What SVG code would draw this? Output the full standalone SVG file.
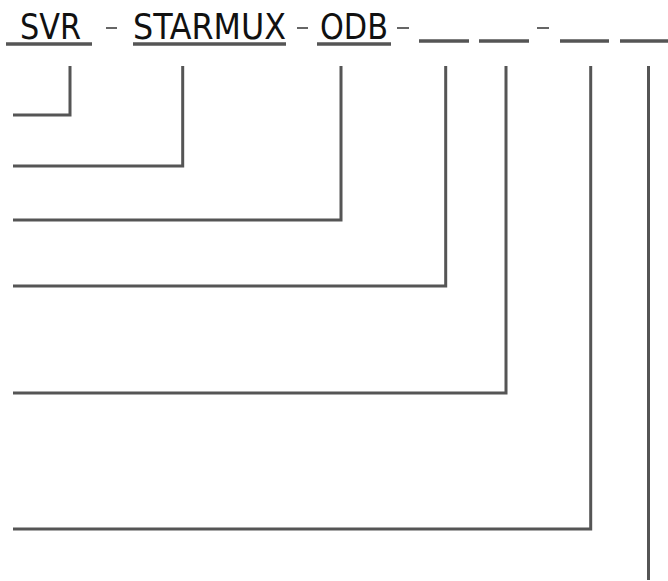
<svg xmlns="http://www.w3.org/2000/svg" width="668" height="581" viewBox="0 0 668 581">
<style>
.t{font-family:"DejaVu Sans Condensed","DejaVu Sans",sans-serif;font-size:35px;fill:#111}
.u{stroke:#555;stroke-width:3.5;fill:none}
.d{stroke:#555;stroke-width:1.8}
.c{stroke:#555;stroke-width:3;fill:none}
</style>
<rect width="668" height="581" fill="#fff"/>
<g id="code">
<g id="n-svr"><text class="t" x="20" y="39" textLength="61" lengthAdjust="spacingAndGlyphs">SVR</text><line class="u" x1="6" y1="44" x2="92" y2="44"/></g>
<line class="d" x1="106" y1="28" x2="117" y2="28"/>
<g id="n-starmux"><text class="t" x="133" y="39" textLength="153" lengthAdjust="spacingAndGlyphs">STARMUX</text><line class="u" x1="133" y1="44" x2="286" y2="44"/></g>
<line class="d" x1="297" y1="28" x2="308" y2="28"/>
<g id="n-odb"><text class="t" x="320" y="39" textLength="68" lengthAdjust="spacingAndGlyphs">ODB</text><line class="u" x1="317" y1="44" x2="391" y2="44"/></g>
<line class="d" x1="397" y1="28" x2="409" y2="28"/>
<g id="n-b1"><line class="u" x1="419" y1="41" x2="469" y2="41"/></g>
<g id="n-b2"><line class="u" x1="479" y1="41" x2="529" y2="41"/></g>
<line class="d" x1="537" y1="28" x2="549" y2="28"/>
<g id="n-b3"><line class="u" x1="560" y1="41" x2="609" y2="41"/></g>
<g id="n-b4"><line class="u" x1="620" y1="41" x2="668" y2="41"/></g>
</g>
<g id="connectors">
<polyline class="c" points="70,66 70,115 13,115"/>
<polyline class="c" points="182.7,66 182.7,166 13,166"/>
<polyline class="c" points="341,66 341,220 13,220"/>
<polyline class="c" points="445.7,66 445.7,286 13,286"/>
<polyline class="c" points="506,66 506,393 13,393"/>
<polyline class="c" points="590.7,66 590.7,529 13,529"/>
<polyline class="c" points="648.5,66 648.5,580"/>
</g>
</svg>
